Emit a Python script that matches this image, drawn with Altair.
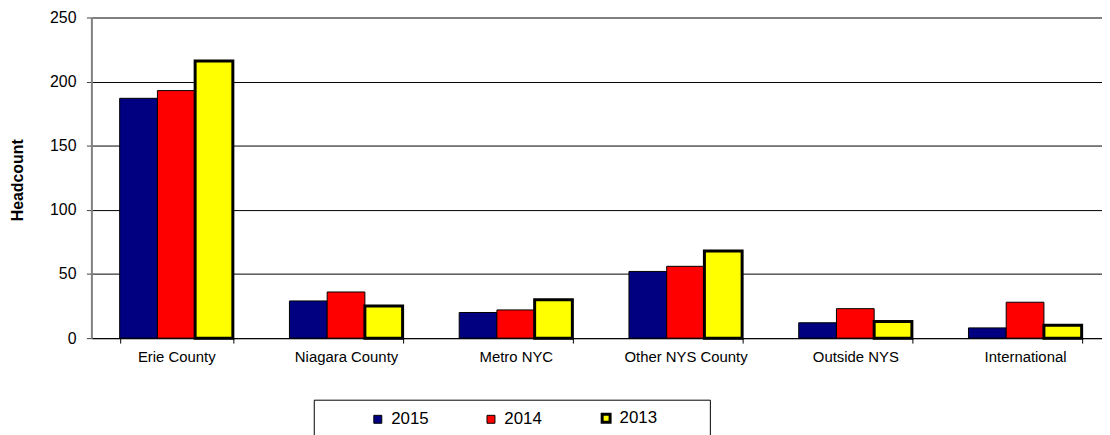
import altair as alt
import pandas as pd

categories = ["Erie County", "Niagara County", "Metro NYC", "Other NYS County", "Outside NYS", "International"]
years = ["2015", "2014", "2013"]
v2015 = [187, 29, 20, 52, 12, 8]
v2014 = [193, 36, 22, 56, 23, 28]
v2013 = [216, 25, 30, 68, 13, 10]
y_ticks = [0, 50, 100, 150, 200, 250]

colors = ["#000080", "#FF0000", "#FFFF00"]

rows = []
for yr, vals in zip(years, [v2015, v2014, v2013]):
    for c, v in zip(categories, vals):
        rows.append({"category": c, "year": yr, "headcount": v})
df = pd.DataFrame(rows)

FONT = "Liberation Sans"
NB = "\u00a0"
ZW = "\u200b"

legend = alt.Legend(
    title=NB, titleOrient="left", titlePadding=46, titleFontSize=15, titleFont=FONT,
    orient="none", legendX=224, legendY=385, direction="horizontal",
    strokeColor="black", fillColor="white", padding=10,
    labelFontSize=17, labelFont=FONT, labelColor="black",
    symbolType="square", symbolSize=64, symbolStrokeColor="black",
    symbolStrokeWidth={"expr": "datum.value == '2013' ? 3 : 1"},
    labelOffset=5, columnPadding=54,
    labelExpr="datum.label == '2013' ? '2013" + NB * 9 + ZW + "' : datum.label",
)

chart = alt.Chart(df).mark_bar(stroke="black").encode(
    x=alt.X(
        "category:N", sort=categories,
        scale=alt.Scale(range=[0, 1026], paddingInner=1 / 3, paddingOuter=1 / 6),
        axis=alt.Axis(
            title=None, labelAngle=0, labelFontSize=15, labelFont=FONT, labelColor="black",
            tickBand="extent", tickSize=5, tickColor="black", domainColor="black",
            labelPadding=6.5, grid=False,
        ),
    ),
    xOffset=alt.XOffset("year:N", sort=years, scale=alt.Scale(paddingInner=0, paddingOuter=0)),
    y=alt.Y(
        "headcount:Q",
        scale=alt.Scale(domain=[0, 250], nice=False),
        axis=alt.Axis(
            values=y_ticks, title="Headcount", labelFontSize=16, labelFont=FONT,
            labelColor="black", labelPadding=10.5, tickSize=5, tickColor="#404040",
            domainColor="#808080", domainWidth=2,
            gridColor={"condition": {"test": "datum.value == 250", "value": "#808080"}, "value": "black"},
            gridWidth={"condition": {"test": "datum.value == 250", "value": 2}, "value": 1},
            gridOpacity=1,
            titleFont=FONT, titleFontSize=16, titleFontWeight="bold", titleColor="black",
            titleX=-74, titleY=163.5, titleAngle=270, titleBaseline="middle", titleAlign="center",
        ),
    ),
    color=alt.Color("year:N", sort=years, scale=alt.Scale(domain=years, range=colors), legend=legend),
    strokeWidth=alt.condition("datum.year == '2013'", alt.value(3), alt.value(1)),
).properties(
    width=1018, height=323,
    autosize=alt.AutoSizeParams(type="none"),
    padding={"left": 84, "top": 8, "right": 0, "bottom": 96},
).configure_view(stroke=None).configure(font=FONT, background="white")

chart.save("out.html", embed_options={"renderer": "svg", "actions": False})
